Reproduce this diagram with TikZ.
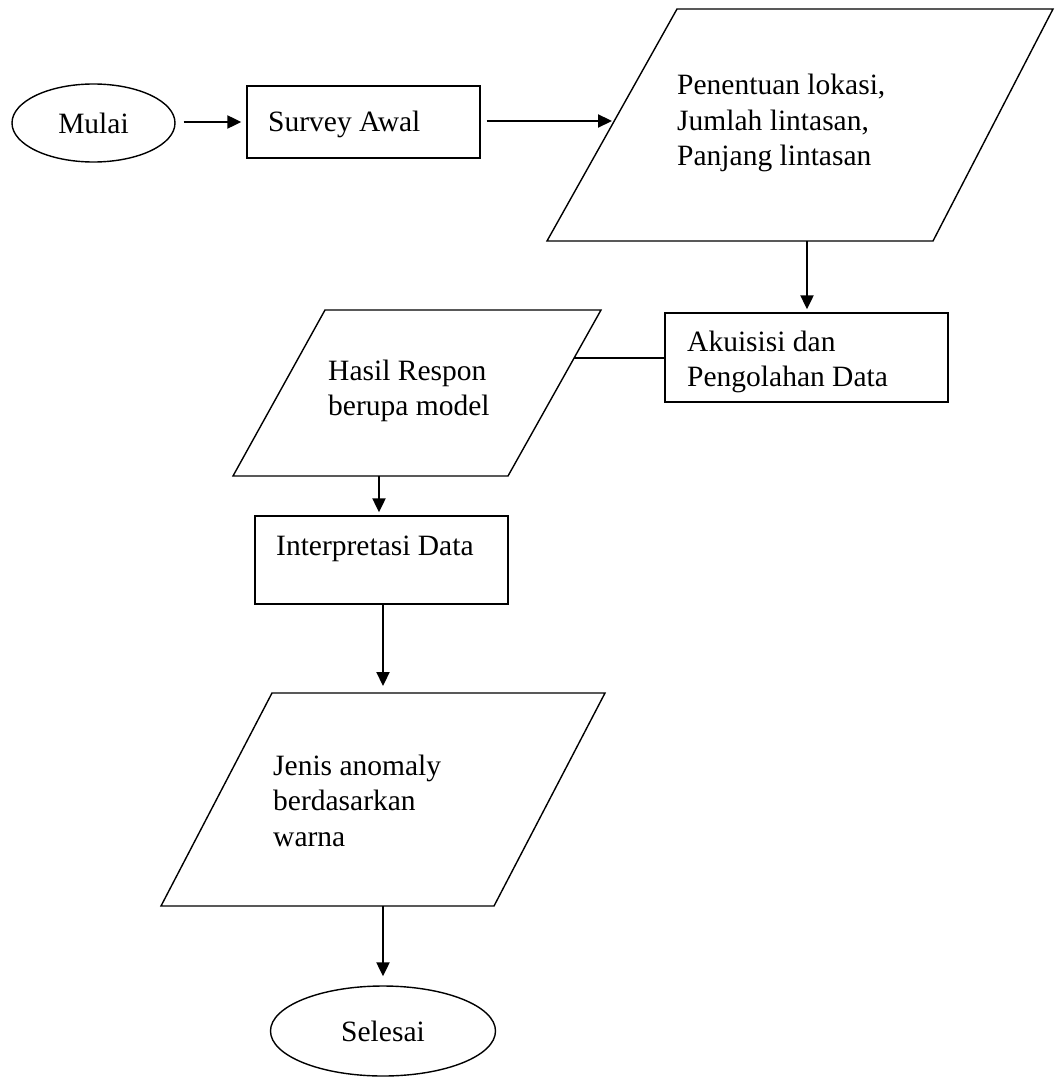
\documentclass[tikz,border=0pt]{standalone}
\usepackage{fontspec}
\setmainfont{Liberation Serif}
\usetikzlibrary{arrows.meta,shapes.geometric}
\begin{document}
\begin{tikzpicture}[x=1pt,y=-1pt,
  shapeline/.style={draw=black,line width=1.4pt},
  boxnode/.style={shapeline,rectangle,inner sep=0pt},
  ovalnode/.style={shapeline,ellipse,inner sep=0pt,font=\fontsize{29.5}{35.5}\selectfont},
  txt/.style={anchor=base west,inner sep=0pt,font=\fontsize{29.5}{35.5}\selectfont},
  conn/.style={line width=2.2pt,-{Triangle[length=14pt,width=13pt]}},
  plainconn/.style={line width=2.2pt}]
\useasboundingbox (0,0) rectangle (1054,1083);
% terminals
\node[ovalnode,minimum width=163pt,minimum height=78pt] (mulai) at (93.5,123) {Mulai};
\node[ovalnode,minimum width=225pt,minimum height=90pt] (selesai) at (383,1031) {Selesai};
% process boxes
\node[boxnode,minimum width=233pt,minimum height=72pt] (survey) at (363.5,122) {};
\node[boxnode,minimum width=283pt,minimum height=89pt] (akuisisi) at (806.5,357.5) {};
\node[boxnode,minimum width=253pt,minimum height=88pt] (interp) at (381.5,560) {};
% parallelograms (data)
\draw[shapeline] (677,9) -- (1053,9) -- (933,241) -- (547,241) -- cycle;
\draw[shapeline] (325,310) -- (601,310) -- (508,476) -- (233,476) -- cycle;
\draw[shapeline] (272,693) -- (605,693) -- (494,906) -- (161,906) -- cycle;
\coordinate (penIn) at (614,121);
\coordinate (penOut) at (807,241);
\coordinate (hasIn) at (574.4,358);
\coordinate (hasOut) at (379,476);
\coordinate (jenIn) at (383,693);
\coordinate (jenOut) at (383,906);
% texts
\node[txt] (tsurvey) at (268,132) {Survey Awal};
\node[txt] (tpen) at (677,95) {\begin{tabular}[t]{@{}l@{}}Penentuan lokasi,\\Jumlah lintasan,\\Panjang lintasan\end{tabular}};
\node[txt] (thasil) at (328,380) {\begin{tabular}[t]{@{}l@{}}Hasil Respon\\berupa model\end{tabular}};
\node[txt] (takui) at (687,351) {\begin{tabular}[t]{@{}l@{}}Akuisisi dan\\Pengolahan Data\end{tabular}};
\node[txt] (tinterp) at (276,555) {Interpretasi Data};
\node[txt] (tjenis) at (273,775) {\begin{tabular}[t]{@{}l@{}}Jenis anomaly\\berdasarkan\\warna\end{tabular}};
% connectors
\draw[conn,shorten <=8pt,shorten >=5pt] (mulai.east |- 0,122) -- (survey.west |- 0,122);
\draw[conn,shorten <=6pt,shorten >=2pt] (survey.east |- penIn) -- (penIn);
\draw[conn,shorten >=3pt] (penOut) -- (penOut |- akuisisi.north);
\draw[plainconn] (hasIn) -- (akuisisi.west |- hasIn);
\draw[conn,shorten >=3pt] (hasOut) -- (hasOut |- interp.north);
\draw[conn,shorten >=7pt] (interp.south -| jenIn) -- (jenIn);
\draw[conn,shorten >=9pt] (jenOut) -- (selesai.north);
\end{tikzpicture}
\end{document}
